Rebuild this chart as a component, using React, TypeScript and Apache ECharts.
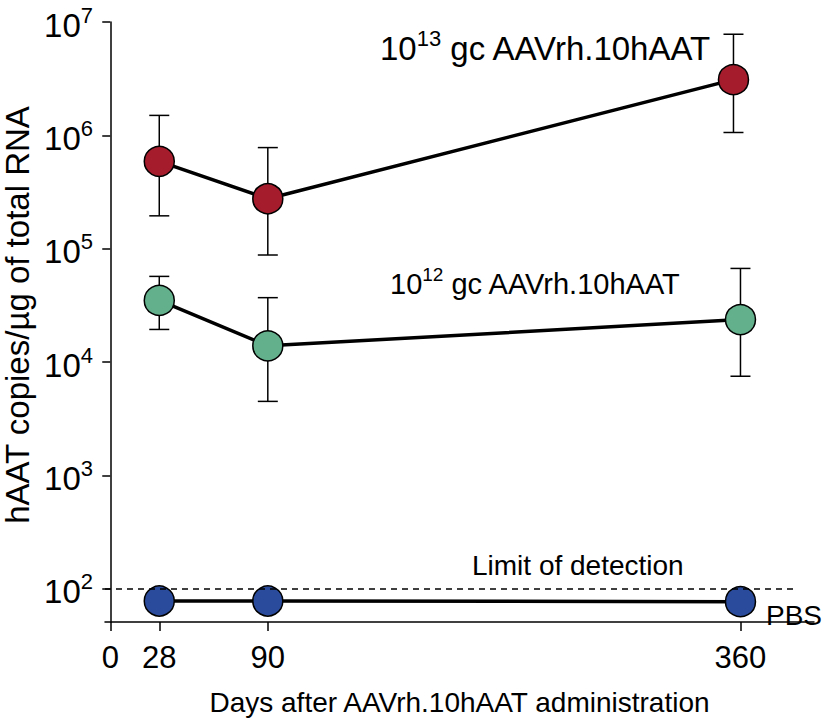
import React, { useEffect, useRef } from "react";
import * as echarts from "echarts";

// ---- data ----
const days = [28, 90, 360];
const highDoseDays = [28, 90, 356];
const highDoseMean = [5.9e5, 2.76e5, 3.1e6];
const highDoseLow = [1.95e5, 8.8e4, 1.06e6];
const highDoseHigh = [1.5e6, 7.8e5, 7.8e6];
const lowDoseMean = [3.5e4, 1.39e4, 2.37e4];
const lowDoseLow = [1.94e4, 4.5e3, 7.5e3];
const lowDoseHigh = [5.7e4, 3.7e4, 6.7e4];
const pbsMean = [78, 78, 77];
const detectionLimit = 100;
const detectionLimitSpan = [-3, 391];
const xTicks = [0, 28, 90, 360];
const yTickExponents = [2, 3, 4, 5, 6, 7];

const FONT = '"Liberation Sans", Arial, Helvetica, sans-serif';
const lg = (v: number) => Math.log10(v);

const supRich = (base: number, sup: number) => ({
  a: { fontSize: base, lineHeight: base + 3, fill: "#000", color: "#000", fontFamily: FONT, padding: [6, 0, 0, 0] },
  s: { fontSize: sup, lineHeight: sup, verticalAlign: "top", fill: "#000", color: "#000", fontFamily: FONT },
});

export default function App() {
  const ref = useRef<HTMLDivElement>(null);
  useEffect(() => {
    if (!ref.current) return;
    const chart = echarts.init(ref.current, undefined, { renderer: "svg" });

    const errData = [
      ...highDoseDays.map((d, i) => [d, lg(highDoseLow[i]), lg(highDoseHigh[i])]),
      ...days.map((d, i) => [d, lg(lowDoseLow[i]), lg(lowDoseHigh[i])]),
    ];

    const lineSeries = (name: string, xs: number[], vals: number[], color: string) => ({
      type: "line",
      name,
      data: xs.map((d, i) => [d, lg(vals[i])]),
      symbol: "circle",
      symbolSize: 30,
      z: 3,
      lineStyle: { color: "#000", width: 3.5 },
      itemStyle: { color, borderColor: "#000", borderWidth: 1.5 },
      emphasis: { disabled: true },
    });

    const pbs: any = lineSeries("PBS", days, pbsMean, "#2a4b9b");
    pbs.markLine = {
      silent: true,
      symbol: ["none", "none"],
      label: { show: false },
      lineStyle: { color: "#000", width: 1.5, type: [6, 5] },
      data: [[{ coord: [detectionLimitSpan[0], lg(detectionLimit)] }, { coord: [detectionLimitSpan[1], lg(detectionLimit)] }]],
    };

    chart.setOption({
      animation: false,
      textStyle: { fontFamily: FONT },
      grid: { left: 105, right: 8, top: 22, bottom: 90.3, containLabel: false },
      xAxis: {
        type: "value",
        min: -3,
        max: 402,
        name: "Days after AAVrh.10hAAT administration",
        nameLocation: "middle",
        nameGap: 66,
        nameTextStyle: { fontSize: 28, color: "#000", fontFamily: FONT },
        axisLine: { lineStyle: { color: "#000", width: 1.5 } },
        axisTick: { show: true, length: 9, lineStyle: { color: "#000", width: 1.5 }, customValues: xTicks },
        axisLabel: { fontSize: 31, color: "#000", margin: 20, fontFamily: FONT, customValues: xTicks },
        splitLine: { show: false },
      },
      yAxis: {
        type: "value",
        min: 1.707,
        max: 7,
        axisLine: { lineStyle: { color: "#000", width: 1.5 } },
        axisTick: { show: true, length: 8, lineStyle: { color: "#000", width: 1.5 }, customValues: yTickExponents },
        axisLabel: {
          margin: 12,
          color: "#000",
          customValues: yTickExponents,
          formatter: (v: number) => `{a|10}{s|${Math.round(v)}}`,
          rich: supRich(33, 22),
        },
        splitLine: { show: false },
      },
      series: [
        {
          type: "custom",
          name: "err",
          z: 1,
          silent: true,
          data: errData,
          encode: { x: 0, y: [1, 2] },
          renderItem: (params: any, api: any) => {
            const x = api.value(0);
            const lo = api.coord([x, api.value(1)]);
            const hi = api.coord([x, api.value(2)]);
            const w = 10;
            const style = { stroke: "#000", lineWidth: 1.5 };
            return {
              type: "group",
              children: [
                { type: "line", shape: { x1: lo[0], y1: lo[1], x2: hi[0], y2: hi[1] }, style },
                { type: "line", shape: { x1: lo[0] - w, y1: lo[1], x2: lo[0] + w, y2: lo[1] }, style },
                { type: "line", shape: { x1: hi[0] - w, y1: hi[1], x2: hi[0] + w, y2: hi[1] }, style },
              ],
            };
          },
        },
        lineSeries("10^13", highDoseDays, highDoseMean, "#a51c2c"),
        lineSeries("10^12", days, lowDoseMean, "#62b08c"),
        pbs,
      ],
      graphic: [
        {
          type: "text",
          x: 17,
          y: 315,
          rotation: Math.PI / 2,
          style: {
            text: "hAAT copies/µg of total RNA",
            fontSize: 33,
            fill: "#000",
            fontFamily: FONT,
            align: "center",
            verticalAlign: "middle",
          },
        },
        {
          type: "text",
          x: 380,
          y: 45,
          style: { text: "{a|10}{s|13}{a| gc AAVrh.10hAAT}", verticalAlign: "middle", rich: supRich(33, 22) },
        },
        {
          type: "text",
          x: 390,
          y: 281,
          style: { text: "{a|10}{s|12}{a| gc AAVrh.10hAAT}", verticalAlign: "middle", rich: supRich(29, 19) },
        },
        {
          type: "text",
          x: 472,
          y: 565,
          style: { text: "Limit of detection", fontSize: 28, fill: "#000", fontFamily: FONT, verticalAlign: "middle" },
        },
        {
          type: "text",
          x: 766,
          y: 615,
          style: { text: "PBS", fontSize: 28, fill: "#000", fontFamily: FONT, verticalAlign: "middle" },
        },
      ],
    });
    return () => chart.dispose();
  }, []);
  return <div ref={ref} style={{ position: "absolute", left: 0, top: 0, width: 822, height: 721 }} />;
}
